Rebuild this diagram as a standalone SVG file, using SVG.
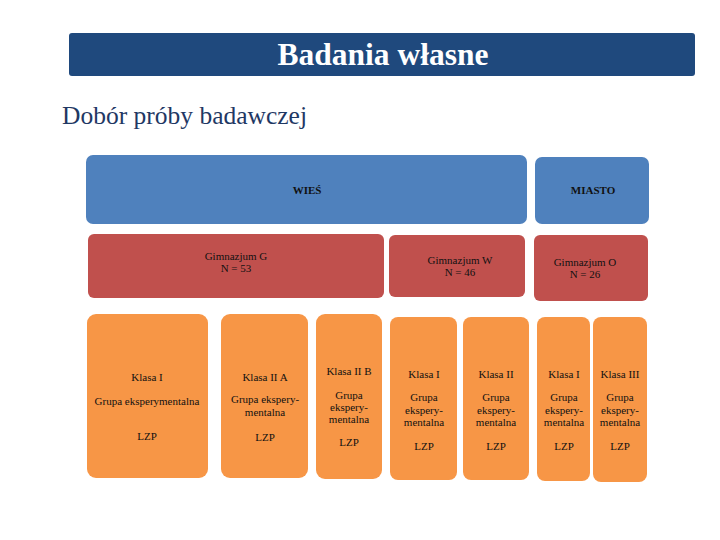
<svg xmlns="http://www.w3.org/2000/svg" width="720" height="540" viewBox="0 0 720 540">
<style>
.t{font-family:"Liberation Serif","Times New Roman","DejaVu Serif",serif;font-size:11px;fill:#111;text-anchor:middle}
.b{fill:#4F81BD}
.r{fill:#C0504D}
.o{fill:#F79646}
.h{font-family:"Liberation Serif","Times New Roman","DejaVu Serif",serif}
</style>
<rect width="720" height="540" fill="#fff"/>
<g id="title">
<rect x="69" y="33" width="626" height="43" rx="3" fill="#1F497D"/>
<text class="h" x="383" y="65" font-size="31.5" font-weight="bold" fill="#fff" text-anchor="middle">Badania własne</text>
</g>
<g id="subtitle">
<text class="h" x="62" y="124" font-size="25.5" fill="#1F3864">Dobór próby badawczej</text>
</g>
<g id="wies"><rect class="b" x="86" y="155" width="441" height="69" rx="7"/><text class="t" x="307" y="194" font-weight="bold">WIEŚ</text></g>
<g id="miasto"><rect class="b" x="535" y="157" width="114" height="67" rx="7"/><text class="t" x="593" y="194" font-weight="bold">MIASTO</text></g>
<g id="gimG"><rect class="r" x="88" y="234" width="296" height="64" rx="6"/><text class="t" x="236" y="260">Gimnazjum G</text><text class="t" x="236" y="272">N = 53</text></g>
<g id="gimW"><rect class="r" x="389" y="235" width="136" height="62" rx="6"/><text class="t" x="460" y="264">Gimnazjum W</text><text class="t" x="460" y="276">N = 46</text></g>
<g id="gimO"><rect class="r" x="534" y="235" width="114" height="66" rx="6"/><text class="t" x="585" y="266">Gimnazjum O</text><text class="t" x="585" y="278">N = 26</text></g>
<g id="k1"><rect class="o" x="87" y="314" width="121" height="164" rx="9"/><text class="t" x="147" y="381">Klasa I</text><text class="t" x="147" y="405">Grupa eksperymentalna</text><text class="t" x="147" y="440">LZP</text></g>
<g id="k2"><rect class="o" x="221" y="314" width="87" height="164" rx="9"/><text class="t" x="265" y="381">Klasa II A</text><text class="t" x="265" y="403">Grupa ekspery-</text><text class="t" x="265" y="416">mentalna</text><text class="t" x="265" y="441">LZP</text></g>
<g id="k3"><rect class="o" x="316" y="314" width="66" height="165" rx="9"/><text class="t" x="349" y="375">Klasa II B</text><text class="t" x="349" y="399">Grupa</text><text class="t" x="349" y="411">ekspery-</text><text class="t" x="349" y="423">mentalna</text><text class="t" x="349" y="446">LZP</text></g>
<g id="k4"><rect class="o" x="390" y="317" width="67" height="163" rx="8"/><text class="t" x="424" y="378">Klasa I</text><text class="t" x="424" y="401">Grupa</text><text class="t" x="424" y="414">ekspery-</text><text class="t" x="424" y="426">mentalna</text><text class="t" x="424" y="450">LZP</text></g>
<g id="k5"><rect class="o" x="463" y="317" width="66" height="163" rx="8"/><text class="t" x="496" y="378">Klasa II</text><text class="t" x="496" y="401">Grupa</text><text class="t" x="496" y="414">ekspery-</text><text class="t" x="496" y="426">mentalna</text><text class="t" x="496" y="450">LZP</text></g>
<g id="k6"><rect class="o" x="537" y="317" width="53" height="164" rx="8"/><text class="t" x="564" y="378">Klasa I</text><text class="t" x="564" y="401">Grupa</text><text class="t" x="564" y="414">ekspery-</text><text class="t" x="564" y="426">mentalna</text><text class="t" x="564" y="450">LZP</text></g>
<g id="k7"><rect class="o" x="593" y="317" width="54" height="165" rx="8"/><text class="t" x="620" y="378">Klasa III</text><text class="t" x="620" y="401">Grupa</text><text class="t" x="620" y="414">ekspery-</text><text class="t" x="620" y="426">mentalna</text><text class="t" x="620" y="450">LZP</text></g>
<g id="connectors"/>
</svg>
